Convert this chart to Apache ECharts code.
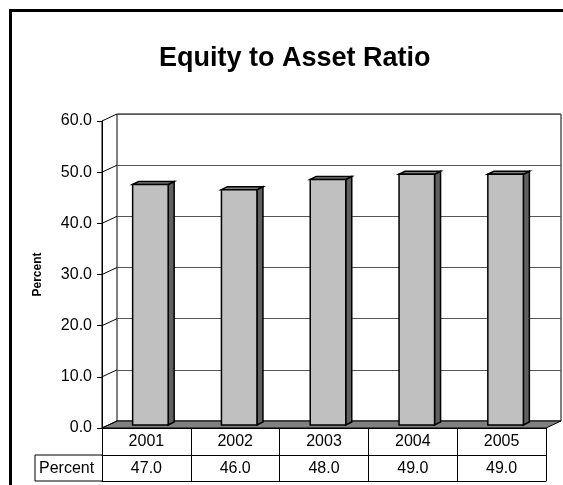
<!DOCTYPE html>
<html>
<head>
<meta charset="utf-8">
<script src="https://cdn.jsdelivr.net/npm/echarts@6/dist/echarts.min.js"></script>
<style>
  html, body { margin: 0; padding: 0; background: #fff; }
  #chart { width: 563px; height: 485px; }
</style>
</head>
<body>
<div id="chart"></div>
<script>
// data
const years = ['2001', '2002', '2003', '2004', '2005']
const percent = [47.0, 46.0, 48.0, 49.0, 49.0]
const seriesName = 'Percent'
const yTicks = [0, 10, 20, 30, 40, 50, 60]

const font = 'Liberation Sans, Arial, sans-serif'
// depth of the 3d box (front -> back wall)
const DX = 15
const DY = -7
// depth of a bar
const BX = 6
const BY = -3

var chartDom = document.getElementById('chart')
var myChart = echarts.init(chartDom)
var option

const yBase = {
  type: 'value',
  min: 0,
  max: 60,
  interval: 10
}

option = {
  animation: false,
  backgroundColor: '#fff',
  textStyle: { fontFamily: font },
  title: {
    text: 'Equity to Asset Ratio',
    left: 154,
    top: 40,
    textStyle: { fontSize: 27, fontWeight: 'bold', color: '#000', fontFamily: font }
  },
  grid: [
    // back wall
    { left: 117, top: 114, width: 444, height: 307, show: true, borderColor: '#000', borderWidth: 1 },
    // front plane
    { left: 102, top: 121, width: 444, height: 307 },
    // bar plane
    { left: 106, top: 118, width: 444, height: 307 }
  ],
  xAxis: [
    { type: 'category', gridIndex: 0, data: years, show: false },
    {
      type: 'category',
      gridIndex: 1,
      data: years,
      position: 'bottom',
      axisLine: { onZero: false, lineStyle: { color: '#000', width: 1 } },
      axisTick: { show: true, length: 53, lineStyle: { color: '#000' } },
      axisLabel: { fontSize: 16, color: '#000', margin: 6 }
    },
    {
      type: 'category',
      gridIndex: 1,
      data: percent.map((v) => v.toFixed(1)),
      position: 'bottom',
      offset: 27,
      axisLine: { onZero: false, lineStyle: { color: '#000', width: 1 } },
      axisTick: { show: false },
      axisLabel: { fontSize: 16, color: '#000', margin: 6 }
    },
    {
      type: 'category',
      gridIndex: 1,
      data: years,
      position: 'bottom',
      offset: 53,
      axisLine: { onZero: false, lineStyle: { color: '#000', width: 1 } },
      axisTick: { show: false },
      axisLabel: { show: false }
    },
    { type: 'category', gridIndex: 2, data: years, show: false }
  ],
  yAxis: [
    {
      ...yBase,
      gridIndex: 0,
      axisLine: { show: false },
      axisTick: { show: false },
      axisLabel: { show: false },
      splitLine: { lineStyle: { color: '#555', width: 1 } }
    },
    {
      ...yBase,
      gridIndex: 1,
      position: 'left',
      name: seriesName,
      nameLocation: 'middle',
      nameRotate: 90,
      nameGap: 58,
      nameTextStyle: { fontSize: 12, fontWeight: 'bold', color: '#000', fontFamily: font },
      axisLine: { show: true, onZero: false, lineStyle: { color: '#000', width: 1 } },
      axisTick: { show: true, length: 5, lineStyle: { color: '#000' } },
      axisLabel: {
        fontSize: 16,
        color: '#000',
        margin: 10,
        formatter: (v) => v.toFixed(1)
      },
      splitLine: { show: false }
    },
    { ...yBase, gridIndex: 2, show: false, splitLine: { show: false } }
  ],
  series: [
    // floor
    {
      type: 'custom',
      xAxisIndex: 1,
      yAxisIndex: 1,
      z: 1,
      silent: true,
      data: [[0, 0]],
      renderItem: (params, api) => {
        const cs = params.coordSys
        const y = api.coord([0, 0])[1]
        return {
          type: 'polygon',
          shape: {
            points: [
              [cs.x, y],
              [cs.x + cs.width, y],
              [cs.x + cs.width + DX, y + DY],
              [cs.x + DX, y + DY]
            ]
          },
          style: { fill: '#808080', stroke: '#000', lineWidth: 1 }
        }
      }
    },
    // side wall: front edge and tick connectors
    {
      type: 'custom',
      xAxisIndex: 1,
      yAxisIndex: 1,
      z: 2,
      silent: true,
      data: yTicks.map((v) => [0, v]),
      renderItem: (params, api) => {
        const cs = params.coordSys
        const y = api.coord([0, api.value(1)])[1]
        return {
          type: 'line',
          shape: { x1: cs.x, y1: y, x2: cs.x + DX, y2: y + DY },
          style: { stroke: '#000', lineWidth: 1 }
        }
      }
    },
    // 3d bars
    {
      name: seriesName,
      type: 'custom',
      xAxisIndex: 4,
      yAxisIndex: 2,
      z: 3,
      data: percent.map((v, i) => [i, v]),
      renderItem: (params, api) => {
        const top = api.coord([api.value(0), api.value(1)])
        const base = api.coord([api.value(0), 0])
        const w = api.size([1, 0])[0] * 0.4
        const x0 = top[0] - w / 2
        const x1 = top[0] + w / 2
        const edge = { stroke: '#000', lineWidth: 1.5, lineJoin: 'miter' }
        return {
          type: 'group',
          children: [
            {
              type: 'polygon',
              shape: { points: [[x1, top[1]], [x1 + BX, top[1] + BY], [x1 + BX, base[1] + BY], [x1, base[1]]] },
              style: { fill: '#606060', ...edge }
            },
            {
              type: 'polygon',
              shape: { points: [[x0, top[1]], [x0 + BX, top[1] + BY], [x1 + BX, top[1] + BY], [x1, top[1]]] },
              style: { fill: '#808080', ...edge }
            },
            {
              type: 'rect',
              shape: { x: x0, y: top[1], width: w, height: base[1] - top[1] },
              style: { fill: '#c0c0c0', ...edge }
            }
          ]
        }
      }
    }
  ],
  graphic: [
    // outer frame
    {
      type: 'rect',
      shape: { x: 10.5, y: 10.5, width: 600, height: 600 },
      style: { fill: 'none', stroke: '#000', lineWidth: 3 },
      z: 0
    },
    // front edge of the side wall
    {
      type: 'line',
      shape: { x1: 102, y1: 121, x2: 102, y2: 428 },
      style: { stroke: '#000', lineWidth: 1 }
    },
    // row header cell of the data table
    {
      type: 'polyline',
      shape: { points: [[102, 455], [35, 455], [35, 481], [102, 481]] },
      style: { fill: 'none', stroke: '#000', lineWidth: 1 }
    },
    {
      type: 'text',
      left: 39,
      top: 461,
      style: { text: seriesName, fontSize: 16, fill: '#000', fontFamily: font }
    }
  ]
}

option && myChart.setOption(option)
</script>
</body>
</html>
